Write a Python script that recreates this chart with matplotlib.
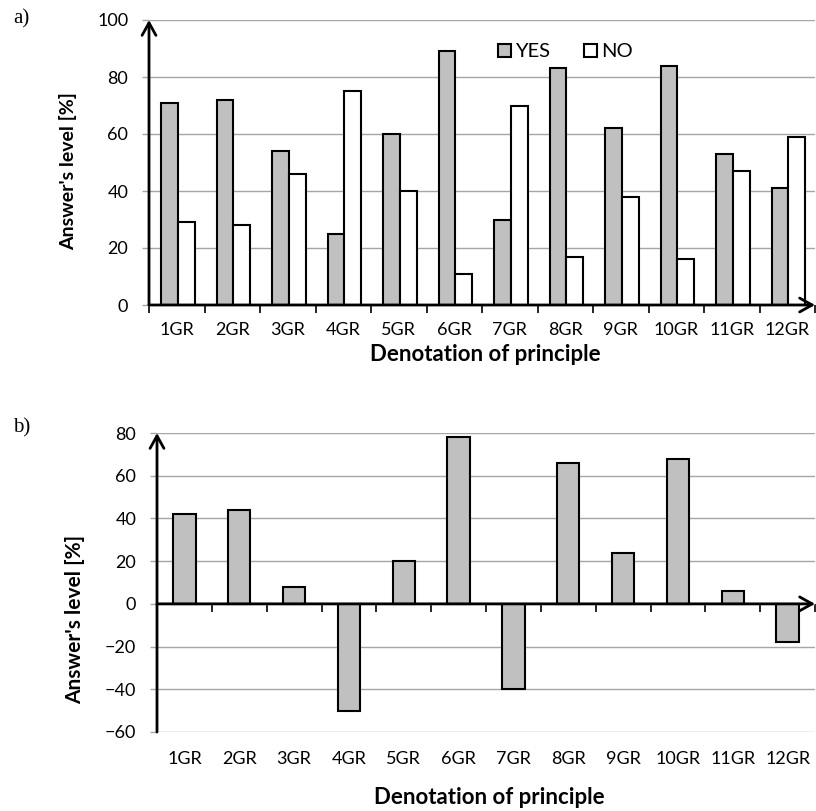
import matplotlib

matplotlib.use("Agg")
import matplotlib.pyplot as plt
import numpy as np
from matplotlib.patches import Patch

principles = ["1GR", "2GR", "3GR", "4GR", "5GR", "6GR", "7GR", "8GR", "9GR", "10GR", "11GR", "12GR"]
yes_pct = [71, 72, 54, 25, 60, 89, 30, 83, 62, 84, 53, 41]
no_pct = [29, 28, 46, 75, 40, 11, 70, 17, 38, 16, 47, 59]
diff_pct = [42, 44, 8, -50, 20, 78, -40, 66, 24, 68, 6, -18]

ticks_a = [0, 20, 40, 60, 80, 100]
ticks_b = [-60, -40, -20, 0, 20, 40, 60, 80]

plt.rcParams["font.family"] = ["Lato", "DejaVu Sans"]

GRAY = "#c0c0c0"
GRID = "#a6a6a6"
W, H = 816, 811


def px_axes(left, top, right, bottom):
    return [left / W, 1 - bottom / H, (right - left) / W, (bottom - top) / H]


def arrow(ax, start, end):
    ax.annotate(
        "",
        xy=end,
        xycoords="axes fraction",
        xytext=start,
        textcoords="axes fraction",
        arrowprops=dict(
            arrowstyle="->,head_length=0.45,head_width=0.25",
            lw=2.0,
            color="black",
            shrinkA=0,
            shrinkB=0,
            mutation_scale=20,
        ),
        annotation_clip=False,
        zorder=10,
    )


def style_axes(ax, yticks, xlabel_pad, ylab_size, ylab_x, ylab_y, xlab_y):
    n = len(principles)
    ax.set_xlim(0, n)
    ax.set_ylim(yticks[0], yticks[-1])
    ax.set_yticks(yticks)
    ax.yaxis.grid(True, color=GRID, lw=1.0)
    ax.set_axisbelow(True)
    for s in ax.spines.values():
        s.set_visible(False)
    ax.tick_params(axis="y", length=5, width=1, color=GRID, labelsize=13, pad=10)
    ax.set_xticks(np.arange(n) + 0.5)
    ax.set_xticklabels(principles)
    ax.tick_params(axis="x", length=0, labelsize=13, pad=xlabel_pad)

    # zero line with separators between categories
    z = (0 - yticks[0]) / (yticks[-1] - yticks[0])
    sec = ax.secondary_xaxis(z)
    sec.spines["bottom"].set_visible(False)
    sec.set_xticks(np.arange(n + 1))
    sec.set_xticklabels([])
    sec.tick_params(axis="x", length=6, width=1.2, color="black", direction="out")

    arrow(ax, (0, z), (1, z))
    arrow(ax, (0, 0), (0, 1))

    ax.set_ylabel("Answer's level [%]", fontsize=ylab_size, fontweight="bold")
    ax.yaxis.set_label_coords(ylab_x, ylab_y)
    ax.set_xlabel("Denotation of principle", fontsize=16, fontweight="bold")
    ax.xaxis.set_label_coords(0.505, xlab_y)


fig = plt.figure(figsize=(W / 100, H / 100), dpi=100)
ax_a = fig.add_axes(px_axes(149, 20, 815, 305))
ax_b = fig.add_axes(px_axes(157, 433, 815, 732))

x = np.arange(len(principles))
bar_kw = dict(edgecolor="black", linewidth=1.5, zorder=3)

ax_a.bar(x + 0.37, yes_pct, width=0.3, color=GRAY, **bar_kw)
ax_a.bar(x + 0.67, no_pct, width=0.3, color="white", **bar_kw)
style_axes(ax_a, ticks_a, 12, 14, -0.108, 0.47, -0.138)

handles = [
    Patch(facecolor=GRAY, edgecolor="black", linewidth=1.5),
    Patch(facecolor="white", edgecolor="black", linewidth=1.5),
]
ax_a.legend(
    handles,
    ["YES", "NO"],
    ncol=2,
    frameon=False,
    loc="center",
    bbox_to_anchor=(0.625, 0.888),
    handlelength=0.65,
    handleheight=0.65,
    handletextpad=0.2,
    columnspacing=1.7,
    fontsize=14.5,
)

ax_b.bar(x + 0.5, diff_pct, width=0.41, color=GRAY, **bar_kw)
style_axes(ax_b, ticks_b, 14, 15, -0.109, 0.375, -0.185)

fig.text(13 / W, 1 - 19 / H, "a)", family="Liberation Serif", fontsize=15, va="center")
fig.text(13 / W, 1 - 428 / H, "b)", family="Liberation Serif", fontsize=15, va="center")

fig.savefig("out.png", dpi=100)
